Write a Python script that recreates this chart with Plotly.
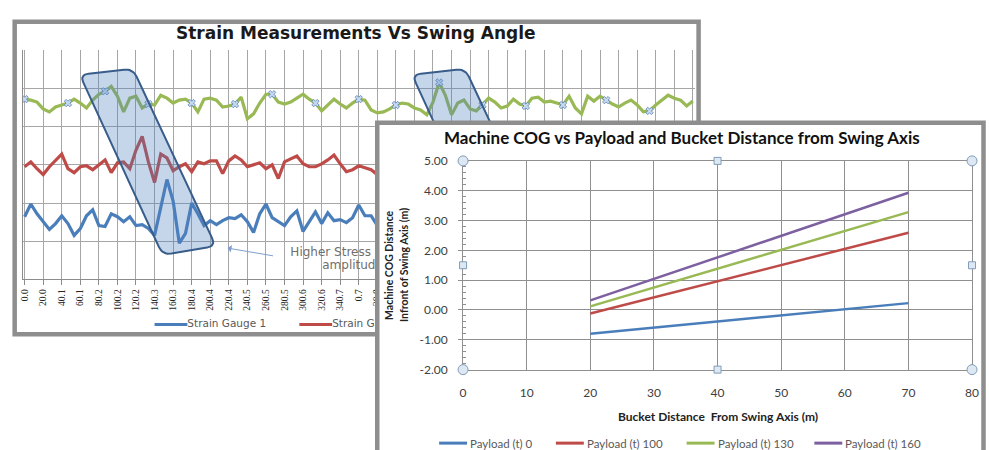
import math
import plotly.graph_objects as go

# reference picture size (all positions below are given in its pixels)
W, H = 989, 450
# size of the figure canvas (the page photo comes out slightly shrunk, so the canvas is
# made a little larger; all placements use fractions of the canvas)
FIG_W, FIG_H = 997, 456

# ---------------- Data: Strain Measurements Vs Swing Angle ----------------
ANGLE_LABELS = ["0.0", "20.0", "40.1", "60.1", "80.2", "100.2", "120.2", "140.3", "160.3",
                "180.4", "200.4", "220.4", "240.5", "260.5", "280.5", "300.6", "320.6", "340.7",
                "0.7", "20.8", "40.8", "60.8", "80.9", "100.9", "120.9", "141.0", "161.0",
                "181.1", "201.1", "221.1", "241.2", "261.2", "281.2", "301.3", "321.3", "341.4", "1.4"]
SAMPLES_PER_LABEL = 3

GAUGE_3 = [184, 183, 181, 174, 171, 176, 178, 180, 184, 180,
           175, 183, 189, 192, 197, 187, 171, 185, 187, 175,
           179, 178, 188, 185, 180, 183, 184, 180, 171, 184,
           185, 183, 176, 177, 179, 186, 164, 169, 180, 189,
           189, 181, 179, 181, 185, 189, 184, 180, 172, 178,
           184, 179, 175, 180, 184, 183, 173, 170, 171, 174,
           178, 180, 179, 175, 173, 168, 181, 201, 188, 168,
           180, 183, 174, 172, 178, 185, 181, 175, 177, 184,
           179, 177, 185, 186, 181, 182, 180, 178, 187, 175,
           169, 187, 182, 187, 183, 179, 176, 180, 183, 178,
           171, 172, 178, 183, 188, 185, 183, 177, 182]
GAUGE_2 = [115, 120, 113, 107, 115, 121, 128, 113, 109, 115,
           116, 112, 117, 122, 109, 119, 120, 113, 132, 146,
           120, 99, 128, 124, 111, 115, 118, 110, 120, 118,
           121, 121, 108, 121, 126, 122, 115, 117, 119, 113,
           117, 103, 120, 123, 126, 118, 115, 115, 118, 122,
           127, 118, 110, 112, 116, 114, 112, 107, 112, 118,
           121]
GAUGE_1 = [64, 77, 67, 59, 51, 57, 65, 57, 45, 52,
           65, 71, 55, 54, 67, 64, 59, 64, 55, 56,
           52, 45, 72, 102, 80, 37, 47, 78, 67, 55,
           60, 56, 60, 63, 62, 66, 59, 48, 67, 77,
           63, 59, 55, 64, 70, 49, 59, 69, 57, 68,
           60, 61, 58, 63, 76, 65, 65, 55, 62, 66,
           60]
SELECTED_IDX = [0, 7, 13, 20, 27, 34, 40, 47, 54, 60, 67, 74, 81, 87, 94, 101]
SERIES_NAMES = ["Strain Gauge 1", "Strain Gauge 2", "Strain Gauge 3"]

# highlight boxes (corners in sample / value units)
BOX_1 = [(8.9, 209), (17.5, 215), (30.9, 34), (22.3, 25)]
BOX_2 = [(62.6, 209), (71.2, 215), (84.6, 34), (76.0, 25)]

# ---------------- Data: Machine COG chart ----------------
BUCKET_DIST = [20, 30, 40, 50, 60, 70]
COG_P0 = [-0.80, -0.59, -0.39, -0.18, 0.02, 0.23]
COG_P100 = [-0.12, 0.42, 0.96, 1.51, 2.05, 2.59]
COG_P130 = [0.12, 0.75, 1.38, 2.02, 2.65, 3.28]
COG_P160 = [0.32, 1.04, 1.76, 2.49, 3.21, 3.93]
PAYLOAD_NAMES = ["Payload (t) 0", "Payload (t) 100", "Payload (t) 130", "Payload (t) 160"]
Y4_TICKS = [-2, -1, 0, 1, 2, 3, 4, 5]
Y4_TEXT = ["-2.00", "-1.00", "0.00", "1.00", "2.00", "3.00", "4.00", "5.00"]

# ---------------- styles ----------------
BLUE, RED, GREEN, PURPLE = "#4a7ebb", "#be4b48", "#98b954", "#7d60a0"
BORDER = "#8e8e8e"
PX_PER_SAMPLE = 6.2


def px(x):
    return x / W


def py(y):
    return 1 - y / H


def rounded_outline(corners, r, sx, sy, steps=8):
    P = [(cx * sx, cy * sy) for cx, cy in corners]
    out = []
    n = len(P)
    for i in range(n):
        cx, cy = P[i]
        ax_, ay_ = P[i - 1]
        bx_, by_ = P[(i + 1) % n]
        l1 = math.hypot(ax_ - cx, ay_ - cy)
        l2 = math.hypot(bx_ - cx, by_ - cy)
        s = (cx + (ax_ - cx) / l1 * r, cy + (ay_ - cy) / l1 * r)
        e = (cx + (bx_ - cx) / l2 * r, cy + (by_ - cy) / l2 * r)
        for k in range(steps + 1):
            t = k / steps
            qx = (1 - t) ** 2 * s[0] + 2 * (1 - t) * t * cx + t ** 2 * e[0]
            qy = (1 - t) ** 2 * s[1] + 2 * (1 - t) * t * cy + t ** 2 * e[1]
            out.append((qx / sx, qy / sy))
    out.append(out[0])
    return [p[0] for p in out], [p[1] for p in out]


fig = go.Figure()

# ---- left chart lines (subplot xy) ----
for vals, color in [(GAUGE_3, GREEN), (GAUGE_2, RED), (GAUGE_1, BLUE)]:
    fig.add_trace(go.Scatter(x=list(range(len(vals))), y=vals, mode="lines",
                             line=dict(color=color, width=3.2), xaxis="x", yaxis="y",
                             showlegend=False, hoverinfo="skip"))

# selection markers on gauge 3
fig.add_trace(go.Scatter(x=SELECTED_IDX, y=[GAUGE_3[i] for i in SELECTED_IDX], mode="markers",
                         marker=dict(symbol="x", size=6.5, color="#c6d9f1",
                                     line=dict(color="#5b83b4", width=0.8)),
                         xaxis="x", yaxis="y", showlegend=False, hoverinfo="skip"))

# highlight boxes
for box in (BOX_1, BOX_2):
    bx, by = rounded_outline(box, 9, PX_PER_SAMPLE, 1.0)
    fig.add_trace(go.Scatter(x=bx, y=by, mode="lines", fill="toself",
                             fillcolor="rgba(79,129,189,0.32)",
                             line=dict(color="#385d8a", width=2), xaxis="x", yaxis="y",
                             showlegend=False, hoverinfo="skip"))

# callout text (inside the left chart so the front panel covers it)
fig.add_trace(go.Scatter(x=[42.95, 48.1], y=[27, 14], mode="text",
                         text=["Higher Stress", "amplitude"], textposition="middle right",
                         textfont=dict(family="DejaVu Sans", size=12, color="#6f6f6f"),
                         xaxis="x", yaxis="y", showlegend=False, hoverinfo="skip",
                         cliponaxis=False))

# ---- left legend (subplot x2y2, below the left chart, covered by the front panel) ----
LEG_X = [21.0, 44.4, 67.8]
for name, color, lx in zip(SERIES_NAMES, [BLUE, RED, GREEN], LEG_X):
    fig.add_trace(go.Scatter(x=[lx, lx + 5.3], y=[0.5, 0.5], mode="lines",
                             line=dict(color=color, width=3), xaxis="x2", yaxis="y2",
                             showlegend=False, hoverinfo="skip"))
    fig.add_trace(go.Scatter(x=[lx + 5.3], y=[0.5], mode="text", text=[name],
                             textposition="middle right",
                             textfont=dict(family="DejaVu Sans", size=10.5, color="#595959"),
                             xaxis="x2", yaxis="y2", showlegend=False, hoverinfo="skip",
                             cliponaxis=False))

# ---- cover panel (white background of the front chart, subplot x3y3) ----
fig.add_trace(go.Scatter(x=[None], y=[None], xaxis="x3", yaxis="y3", showlegend=False,
                         hoverinfo="skip"))

# ---- right chart (subplot x4y4) ----
RIGHT_COLORS = [BLUE, RED, GREEN, PURPLE]
for name, vals, color in zip(PAYLOAD_NAMES, [COG_P0, COG_P100, COG_P130, COG_P160], RIGHT_COLORS):
    fig.add_trace(go.Scatter(x=BUCKET_DIST, y=vals, mode="lines", name=name,
                             line=dict(color=color, width=2.5), xaxis="x4", yaxis="y4",
                             showlegend=False, hoverinfo="skip"))

shapes = [
    dict(type="rect", xref="paper", yref="paper", x0=px(11.7), x1=px(697), y0=py(333), y1=py(14),
         line=dict(color=BORDER, width=4.5), layer="below"),
    dict(type="rect", xref="paper", yref="paper", x0=px(375), x1=px(982.5), y0=py(470), y1=py(117),
         line=dict(color=BORDER, width=4.5), layer="above"),
]
for xa, ya, kind in [(0, 1, "c"), (1, 1, "c"), (0, 0, "c"), (1, 0, "c"),
                     (0.5, 1, "s"), (0.5, 0, "s"), (0, 0.5, "s"), (1, 0.5, "s")]:
    r = 5 if kind == "c" else 3.5
    shapes.append(dict(type="circle" if kind == "c" else "rect",
                       xref="x4 domain", yref="y4 domain",
                       xsizemode="pixel", ysizemode="pixel",
                       xanchor=xa, yanchor=ya, x0=-r, x1=r, y0=-r, y1=r,
                       fillcolor="#dde8f3", line=dict(color="#7f9db9", width=1),
                       layer="above"))

annotations = [
    dict(text="<b>Strain Measurements Vs Swing Angle</b>", x=px(354), y=py(25),
         font=dict(family="DejaVu Sans", size=17, color="#1a1a1a")),
    dict(text="<b>Machine COG vs Payload and Bucket Distance from Swing Axis</b>", x=px(680),
         y=py(132), font=dict(family="Lato", size=17, color="#111111")),
    dict(text="<b>Bucket Distance  From Swing Axis (m)</b>", x=px(716), y=py(417),
         font=dict(family="Lato", size=12, color="#222222")),
    dict(text="<b>Machine COG Distance</b>", x=px(387), y=py(262),
         textangle=-90, font=dict(family="Lato", size=10.5, color="#222222")),
    dict(text="<b>Infront of Swing Axis (m)</b>", x=px(402), y=py(262),
         textangle=-90, font=dict(family="Lato", size=10.5, color="#222222")),
]
for a in annotations:
    a.update(xref="paper", yref="paper", showarrow=False, xanchor="center", yanchor="middle")
annotations.append(dict(text="", x=32.8, y=32, xref="x", yref="y", showarrow=True, ax=47, ay=8,
                        arrowhead=1, arrowsize=1.3, arrowwidth=1, arrowcolor="#7f9fcf"))

# right legend (drawn manually)
LEGEND_ITEM_X = [437, 554, 685, 813]
for name, color, lx in zip(PAYLOAD_NAMES, RIGHT_COLORS, LEGEND_ITEM_X):
    shapes.append(dict(type="line", xref="paper", yref="paper", x0=px(lx), x1=px(lx + 28),
                       y0=py(444), y1=py(444), line=dict(color=color, width=3), layer="above"))
    annotations.append(dict(text=name, x=px(lx + 29), y=py(444), xref="paper", yref="paper",
                            xanchor="left", yanchor="middle", showarrow=False,
                            font=dict(family="Lato", size=11.5, color="#595959")))

fig.update_layout(
    width=FIG_W, height=FIG_H, autosize=False,
    margin=dict(l=0, r=0, t=0, b=0, pad=0),
    paper_bgcolor="white", plot_bgcolor="white",
    hovermode=False,
    showlegend=False,
    xaxis=dict(domain=[px(20), px(693)], range=[-0.27, 108.28], anchor="y",
               tickmode="array",
               tickvals=list(range(0, SAMPLES_PER_LABEL * (len(ANGLE_LABELS) - 1) + 1, SAMPLES_PER_LABEL)),
               ticktext=ANGLE_LABELS, tickangle=-90,
               tickfont=dict(family="Liberation Serif", size=9.5, color="#262626"),
               showgrid=True, gridcolor="#a6a6a6", gridwidth=1, zeroline=False,
               showline=True, linecolor="#8c8c8c", linewidth=1,
               ticks="outside", ticklen=5, tickcolor="#8c8c8c"),
    yaxis=dict(domain=[py(277), py(43)], range=[0, 234], anchor="x", tick0=0, dtick=39,
               showticklabels=False, showgrid=True, gridcolor="#a6a6a6", gridwidth=1,
               zeroline=False, showline=True, linecolor="#8c8c8c", linewidth=1, ticks=""),
    xaxis2=dict(domain=[px(20), px(693)], range=[-0.27, 108.28], anchor="y2", visible=False),
    yaxis2=dict(domain=[py(331), py(315)], range=[0, 1], anchor="x2", visible=False),
    xaxis3=dict(domain=[px(375), px(984)], range=[0, 1], anchor="y3", visible=False),
    yaxis3=dict(domain=[0, py(117)], range=[0, 1], anchor="x3", visible=False),
    xaxis4=dict(domain=[px(461), px(971)], range=[0, 80], anchor="y4", dtick=10, tick0=0,
                tickfont=dict(family="Lato", size=12, color="#404040"),
                showgrid=True, gridcolor="#8f8f8f", gridwidth=1, zeroline=False,
                showline=True, linecolor="#8f8f8f", mirror=True, ticks="",
                ticklabelstandoff=12),
    yaxis4=dict(domain=[py(369), py(156)], range=[-2, 5], anchor="x4", tickmode="array",
                tickvals=Y4_TICKS, ticktext=Y4_TEXT,
                tickfont=dict(family="Lato", size=12, color="#404040"),
                showgrid=True, gridcolor="#8f8f8f", gridwidth=1, zeroline=False,
                showline=True, linecolor="#8f8f8f", mirror=True,
                ticks="outside", ticklen=4, tickcolor="#8f8f8f", ticklabelstandoff=8,
                minor=dict(ticks="inside", ticklen=3, dtick=0.2, tickcolor="#8f8f8f", showgrid=False)),
    shapes=shapes,
    annotations=annotations,
)

PAGE_CSS = ("var d=document.documentElement,b=document.body;"
            "d.style.margin='0';d.style.padding='0';d.style.overflow='hidden';"
            "b.style.margin='0';b.style.padding='0';b.style.overflow='hidden';")

fig.write_html("out.html", config={"displayModeBar": False, "staticPlot": True},
               post_script=PAGE_CSS)
